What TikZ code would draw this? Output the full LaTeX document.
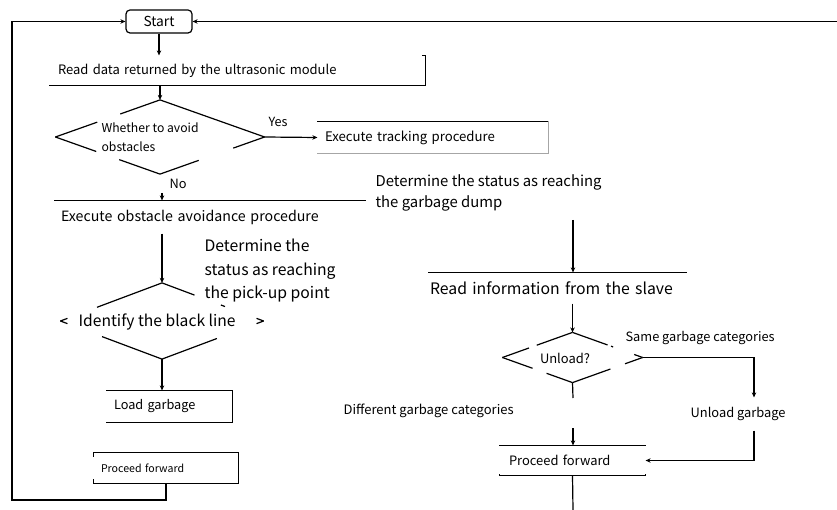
\documentclass[tikz,border=0pt]{standalone}
\usepackage{fontspec}
\setmainfont{Noto Sans CJK SC}
\usetikzlibrary{arrows.meta,calc,shapes.geometric}
\newcommand\dseg[5]{\draw ($(#1.#2)!#4!(#1.#3)$) -- ($(#1.#2)!#5!(#1.#3)$);}
\newlength\rsFitW
% #1 target width (pt), #2 baselineskip (pt), #3 sample line: choose the font size that gives the line that width
\newcommand\rsFit[3]{%
  \setbox0=\hbox{\fontsize{10pt}{12pt}\selectfont #3}%
  \rsFitW=\wd0
  \pgfmathsetmacro\rsFitSz{10*#1/\rsFitW}%
  \fontsize{\rsFitSz pt}{#2pt}\selectfont}
\begin{document}
\begin{tikzpicture}[x=1pt,y=-1pt,line width=1.2pt,
  arr/.style={-{Stealth[length=5pt,width=4.5pt]}},
  lbl/.style={inner sep=0pt,anchor=west,align=left},
  pbox/.style={inner ysep=0pt,align=left},
  dia/.style={diamond,inner sep=0pt},
  grayline/.style={draw=black!35},
]
\useasboundingbox (0,0) rectangle (837,510);

% nodes
\node[draw,rounded corners=4pt,minimum width=66pt,minimum height=23pt,inner sep=0pt,
  font={\rsFit{31}{18}{Start}}] (start) at (159,21.5) {Start};
\node[pbox,minimum height=29pt,text width=359pt,inner xsep=8pt,
  font={\rsFit{270}{18}{Read data returned by the ultrasonic module}}] (rd) at (237.5,70.5) {Read data returned by the ultrasonic module};
\node[dia,minimum width=208pt,minimum height=73pt] (d1) at (160,137) {};
\node[lbl,font={\rsFit{97}{18.5}{Whether to avoid}}] (d1t) at (101,137) {Whether to avoid\\obstacles};
\node[pbox,minimum height=31pt,text width=216pt,inner xsep=7pt,
  font={\rsFit{167}{18}{Execute tracking procedure}}] (trk) at (433,137.5) {Execute tracking procedure};
\node[inner sep=0pt,font={\rsFit{19}{18}{Yes}}] (yes) at (278,122) {Yes};
\node[inner sep=0pt,font={\rsFit{17}{18}{No}}] (no) at (178,184) {No};
\node[pbox,minimum height=32pt,text width=298pt,inner xsep=6pt,
  font={\rsFit{253}{19}{Execute obstacle avoidance procedure}}] (obs) at (210,217) {Execute obstacle avoidance procedure};
\node[lbl,font={\rsFit{226}{21.5}{Determine the status as reaching}}] (dump) at (375,193) {Determine the status as reaching\\the garbage dump};
\node[dia,minimum width=202pt,minimum height=75pt] (d2) at (162,321) {};
\node[lbl,font={\rsFit{157}{22}{Identify the black line}}] (d2t) at (78,322) {Identify the black line};
\node[lbl,font={\rsFit{131}{23.5}{status as reaching}}] (pick) at (204,271) {Determine the\\status as reaching\\the pick-up point};
\node[pbox,minimum height=31pt,text width=111pt,inner xsep=7pt,
  font={\rsFit{80}{18}{Load garbage}}] (load) at (169.5,406.5) {Load garbage};
\node[pbox,minimum height=30pt,text width=130pt,inner xsep=7pt,
  font={\rsFit{82}{15}{Proceed forward}}] (pfl) at (166,468) {Proceed forward};
\node[pbox,minimum height=30pt,text width=255pt,inner xsep=1pt,
  font={\rsFit{236}{22}{Read information from the slave}}] (ri) at (557.5,288) {Read information from the slave};
\node[dia,minimum width=139pt,minimum height=49pt] (d3) at (572.5,357.5) {};
\node[inner sep=0pt,font={\rsFit{50}{18}{Unload?}}] (d3t) at (565,358) {Unload?};
\node[lbl,font={\rsFit{149}{18}{Same garbage categories}}] (same) at (625,338) {Same garbage categories};
\node[lbl,font={\rsFit{170}{18}{Different garbage categories}}] (diff) at (343,411) {Different garbage categories};
\node[lbl,minimum height=32pt,font={\rsFit{95}{18}{Unload garbage}}] (ug) at (690,414) {Unload garbage};
\node[pbox,minimum height=29pt,text width=127pt,inner xsep=9pt,
  font={\rsFit{100}{18}{Proceed forward}}] (pfr) at (572.5,460.5) {Proceed forward};

% free ends
\coordinate (rin) at (837,21.5);
\coordinate (loopc) at (12,500);
\coordinate (nob) at (162,193);
\coordinate (dumpb) at (573,220);
\coordinate (ugx) at (754,0);
\coordinate (dg1) at (573,398);
\coordinate (dg2) at (573,428);
\coordinate (bot) at (573,510);

% partial box borders
\draw (rd.south west) -- (rd.south east) -- (rd.north east) -- ++(-4,0);
\draw (trk.north west) -- (trk.north east);
\draw[grayline] (trk.north east) -- (trk.south east) -- (trk.south west);
\draw (obs.north west) -- (obs.north east);
\draw (load.north west) -- (load.north east) -- (load.south east) -- (load.south west);
\draw (pfl.north west) -- (pfl.north east) -- (pfl.south east) -- (pfl.south west);
\draw (pfl.north west) -- ++(0,5);
\draw (pfl.south west) -- ++(0,-5);
\draw (ri.north west) -- (ri.north east);
\draw (pfr.north west) -- (pfr.north east);
\draw (pfr.south west) -- (pfr.south east);
\draw (pfr.south west) -- ++(0,-2);
\draw (pfr.south east) -- ++(0,-2);

% broken diamond outlines
\dseg{d1}{north}{west}{0}{0.38}
\dseg{d1}{north}{west}{0.6}{1}
\dseg{d1}{west}{south}{0}{0.39}
\dseg{d1}{west}{south}{0.61}{1}
\dseg{d1}{south}{east}{0}{0.37}
\dseg{d1}{south}{east}{0.7}{1}
\dseg{d1}{east}{north}{0}{1}

\dseg{d2}{north}{west}{0}{0.64}
\dseg{d2}{north}{west}{0.93}{1}
\dseg{d2}{west}{south}{0}{0.07}
\dseg{d2}{west}{south}{0.41}{1}
\dseg{d2}{south}{east}{0}{0.54}
\dseg{d2}{south}{east}{0.93}{1}
\dseg{d2}{east}{north}{0}{0.07}
\dseg{d2}{east}{north}{0.38}{0.42}
\dseg{d2}{east}{north}{0.68}{1}

\dseg{d3}{north}{west}{0}{0.51}
\dseg{d3}{north}{west}{0.62}{1}
\dseg{d3}{west}{south}{0}{0.43}
\dseg{d3}{west}{south}{0.63}{1}
\dseg{d3}{south}{east}{0}{0.54}
\dseg{d3}{south}{east}{0.75}{1}
\dseg{d3}{east}{north}{0}{0.12}
\dseg{d3}{east}{north}{0.42}{0.45}
\dseg{d3}{east}{north}{0.5}{1}

% connectors
\draw[arr] (start.south) -- (start.south |- rd.north);
\draw[arr] (d1.north |- rd.south) -- (d1.north);
\draw[arr] (d1.east) -- (trk.west);
\draw[arr] (nob) -- (nob |- obs.north);
\draw[arr] (d2.north |- obs.south) -- (d2.north);
\draw[arr] (d2.south) -- (d2.south |- load.north);
\draw[arr] (pfl.south) |- (loopc) |- (start.west);
\draw[arr] (rin) -- (start.east);
\draw[arr] (dumpb) -- (dumpb |- ri.north);
\draw[arr] (d3.north |- ri.south) -- (d3.north);
\draw[arr] (d3.east) -| (ugx |- ug.north);
\draw[arr] (ugx |- ug.south) |- (pfr.east);
\draw (d3.south) -- (dg1);
\draw[arr] (dg2) -- (dg2 |- pfr.north);
\draw (pfr.south) -- (bot);
\end{tikzpicture}
\end{document}
